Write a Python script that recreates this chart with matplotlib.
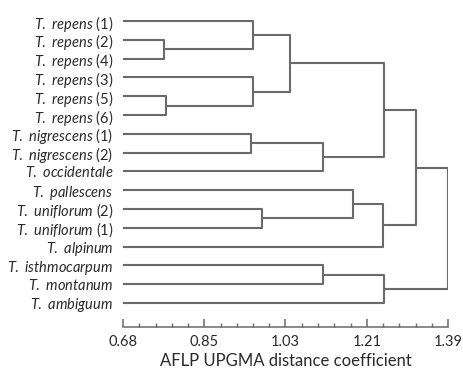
import matplotlib.pyplot as plt
import numpy as np

plt.rcParams["font.family"] = ["Lato", "DejaVu Sans"]
plt.rcParams["mathtext.fontset"] = "custom"
plt.rcParams["mathtext.it"] = "Lato:italic"
plt.rcParams["mathtext.rm"] = "Lato"

# leaves, top to bottom
species = ["T. repens", "T. repens", "T. repens", "T. repens", "T. repens", "T. repens",
           "T. nigrescens", "T. nigrescens", "T. occidentale", "T. pallescens",
           "T. uniflorum", "T. uniflorum", "T. alpinum", "T. isthmocarpum",
           "T. montanum", "T. ambiguum"]
accession = ["(1)", "(2)", "(4)", "(3)", "(5)", "(6)", "(1)", "(2)", "", "",
             "(2)", "(1)", "", "", "", ""]

# merges: (left cluster, right cluster, distance); new clusters numbered from 16
merges = [
    (1, 2, 0.77),
    (4, 5, 0.775),
    (6, 7, 0.96),
    (0, 16, 0.964),
    (3, 17, 0.963),
    (10, 11, 0.984),
    (19, 20, 1.045),
    (18, 8, 1.117),
    (13, 14, 1.117),
    (9, 21, 1.182),
    (22, 23, 1.251),
    (25, 12, 1.248),
    (24, 15, 1.251),
    (26, 27, 1.32),
    (29, 28, 1.39),
]

tick_vals = [0.68, 0.8575, 1.035, 1.2125, 1.39]
tick_labels = ["0.68", "0.85", "1.03", "1.21", "1.39"]

fig = plt.figure(figsize=(4.64, 3.72), dpi=100)
ax = fig.add_axes([123 / 464, 45 / 372, 325 / 464, 327 / 372])

line_kw = dict(color="#6a6a6a", lw=1.5, solid_capstyle="butt")
x0 = tick_vals[0]
pos = {i: (x0, float(i)) for i in range(len(species))}
for k, (a, b, d) in enumerate(merges):
    xa, ya = pos[a]
    xb, yb = pos[b]
    ax.plot([xa, d, d, xb], [ya, ya, yb, yb], **line_kw)
    pos[len(species) + k] = (d, (ya + yb) / 2)

pitch = 18.8
ax.set_ylim((327 - 21) / pitch, -21 / pitch)
ax.set_xlim(tick_vals[0], tick_vals[-1])

labels = []
for s, n in zip(species, accession):
    txt = r"$\mathit{" + s.replace(" ", r"\ ") + "}$"
    if n:
        txt += " " + n
    labels.append(txt)
ax.set_yticks(range(len(species)))
ax.set_yticklabels(labels, fontsize=10.5, color="#2a2a2a")
ax.tick_params(axis="y", length=0, pad=7)

ax.set_xticks(tick_vals)
ax.set_xticklabels(tick_labels, fontsize=10.5, color="#2a2a2a")
minor = np.linspace(tick_vals[0], tick_vals[-1], 21)
ax.set_xticks(minor, minor=True)
ax.tick_params(axis="x", which="major", direction="in", length=6, width=1.1,
               color="#6a6a6a", pad=6)
ax.tick_params(axis="x", which="minor", direction="in", length=3, width=1.0,
               color="#6a6a6a")
ax.set_xlabel("AFLP UPGMA distance coefficient", fontsize=12, color="#2a2a2a",
              labelpad=3)

for side in ["top", "left", "right"]:
    ax.spines[side].set_visible(False)
ax.spines["bottom"].set_color("#6a6a6a")
ax.spines["bottom"].set_linewidth(1.1)

fig.savefig("out.png", dpi=100)
